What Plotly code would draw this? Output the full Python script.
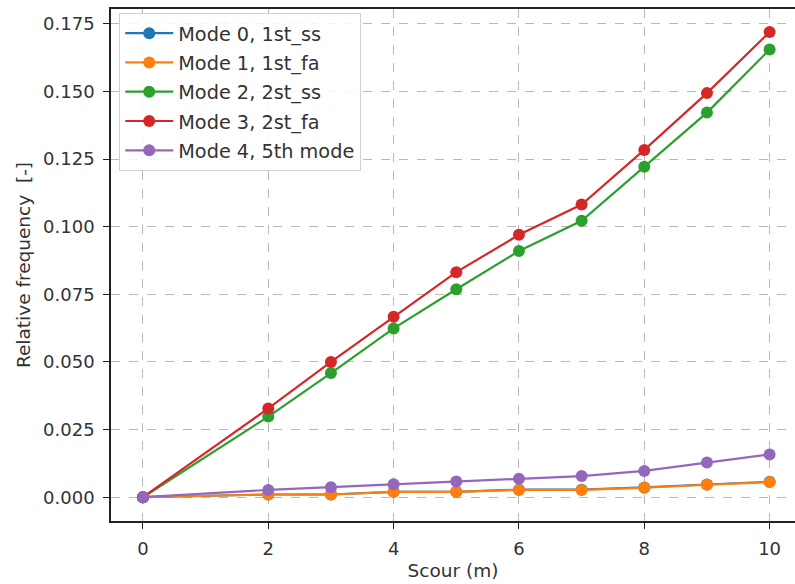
import plotly.graph_objects as go

# Scour depth (m)
scour = [0, 2, 3, 4, 5, 6, 7, 8, 9, 10]

# Relative frequency change for each mode
mode0_1st_ss = [0.0, 0.001, 0.001, 0.002, 0.002, 0.0028, 0.0028, 0.0036, 0.0047, 0.0057]
mode1_1st_fa = [0.0, 0.001, 0.001, 0.002, 0.002, 0.0027, 0.0027, 0.0035, 0.0046, 0.0056]
mode2_2st_ss = [0.0, 0.0298, 0.0459, 0.0624, 0.0769, 0.0910, 0.1022, 0.1222, 0.1422, 0.1655]
mode3_2st_fa = [0.0, 0.0328, 0.0500, 0.0667, 0.0832, 0.0970, 0.1082, 0.1284, 0.1494, 0.1720]
mode4_5th = [0.0, 0.0027, 0.0037, 0.0048, 0.0058, 0.0068, 0.0078, 0.0097, 0.0128, 0.0158]

series = [
    ("Mode 0, 1st_ss", mode0_1st_ss, "#1f77b4"),
    ("Mode 1, 1st_fa", mode1_1st_fa, "#ff7f0e"),
    ("Mode 2, 2st_ss", mode2_2st_ss, "#2ca02c"),
    ("Mode 3, 2st_fa", mode3_2st_fa, "#d62728"),
    ("Mode 4, 5th mode", mode4_5th, "#9467bd"),
]

x_ticks = [0, 2, 4, 6, 8, 10]
y_ticks = [0.0, 0.025, 0.05, 0.075, 0.1, 0.125, 0.15, 0.175]
y_tick_text = [f"{v:.3f}" for v in y_ticks]

fig = go.Figure()
for i, (name, vals, color) in enumerate(series):
    fig.add_trace(go.Scatter(
        x=scour, y=vals, name=name, mode="lines+markers",
        legendgroup=f"g{i}",
        line=dict(color=color, width=2.2),
        marker=dict(color=color, size=12),
    ))

font_family = "DejaVu Sans"
text_color = "#333333"
fig.update_layout(
    width=795, height=584,
    margin=dict(l=111, r=0, t=9, b=63),
    plot_bgcolor="white", paper_bgcolor="white",
    font=dict(family=font_family, color=text_color),
    legend=dict(
        x=0.012, y=0.992, xanchor="left", yanchor="top",
        bgcolor="rgba(255,255,255,0.85)", bordercolor="#d0d0d0", borderwidth=1,
        font=dict(size=19.3, family=font_family, color=text_color),
        itemwidth=48, tracegroupgap=1.2,
    ),
    xaxis=dict(
        range=[-0.51, 10.405], tickvals=x_ticks,
        showgrid=True, gridcolor="#b8b8b8", griddash="dash", gridwidth=1,
        showline=True, linecolor="#222222", linewidth=1.5, mirror=True,
        ticks="outside", ticklen=6, tickcolor="#222222",
        tickfont=dict(size=18), ticklabelstandoff=5, zeroline=False,
        title=dict(text="Scour (m)", font=dict(size=18.5), standoff=6),
    ),
    yaxis=dict(
        range=[-0.0088, 0.1805], tickvals=y_ticks, ticktext=y_tick_text,
        showgrid=True, gridcolor="#b8b8b8", griddash="dash", gridwidth=1,
        showline=True, linecolor="#222222", linewidth=1.5,
        ticks="outside", ticklen=6, tickcolor="#222222",
        tickfont=dict(size=18), ticklabelstandoff=5, zeroline=False,
        title=dict(text="Relative frequency  [-]", font=dict(size=18.5), standoff=8),
    ),
)

fig.write_html("out.html")
